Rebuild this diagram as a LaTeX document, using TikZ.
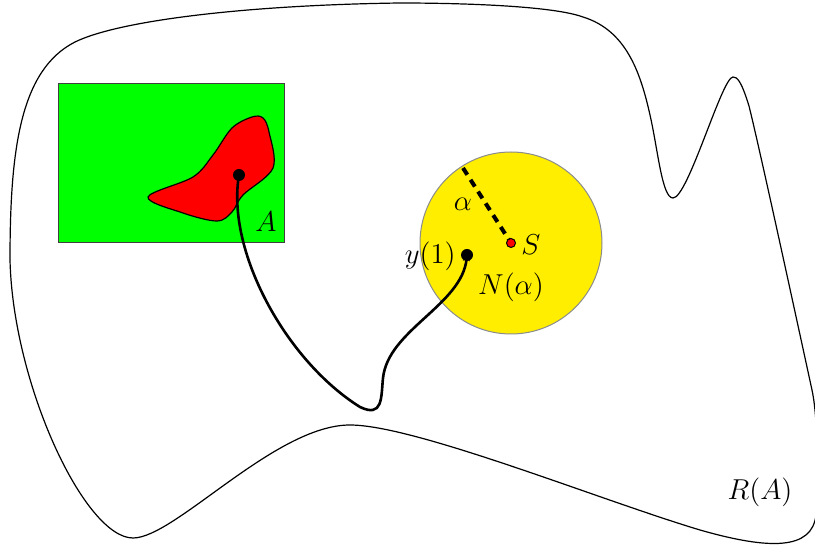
\documentclass[tikz,border=0pt]{standalone}
\usetikzlibrary{arrows.meta}
\definecolor{yel}{RGB}{255,238,0}
\definecolor{grn}{RGB}{0,255,0}
\definecolor{rd}{RGB}{255,0,0}
\begin{document}
\begin{tikzpicture}[x=0.5pt,y=-0.5pt,
  region/.style={draw=black,line width=0.6pt},
  lab/.style={font=\Large, inner sep=0pt},
  bigdot/.style={circle,fill=black,inner sep=0pt,minimum size=6pt},
  trajectory/.style={line width=1.3pt},
]
\useasboundingbox (0,0) rectangle (815,550);
\clip (0,0) rectangle (815,550);
% region R(A)
\draw[region] (133,538)
  .. controls (175,538) and (275,425) .. (350,425)
  .. controls (415,425) and (600,500) .. (700,530)
  .. controls (770,550) and (812,550) .. (816,515)
  .. controls (818,470) and (818,418) .. (812,390)
  .. controls (800,335) and (760,150) .. (749,106)
  .. controls (741,80) and (737,77) .. (733,77)
  .. controls (722,77) and (688,198) .. (673,198)
  .. controls (662,198) and (658,150) .. (650,115)
  .. controls (640,70) and (625,30) .. (583,17)
  .. controls (550,5) and (450,3) .. (400,3)
  .. controls (250,5) and (120,20) .. (75,42)
  .. controls (20,70) and (10,150) .. (10,260)
  .. controls (13,385) and (85,538) .. (133,538) -- cycle;
% set A
\node[draw=black!75, fill=grn, line width=0.5pt, minimum width=113pt, minimum height=79.5pt, inner sep=0pt] (A) at (171,163.5) {};
\draw[fill=rd, line width=0.6pt] plot[smooth cycle, tension=0.55] coordinates {
 (148,197) (193,177) (213,155) (232,128) (252,117) (263,118) (269,132) (273,168)
 (243,195) (232,212) (217,221) (183,213)};
\node[lab] (Alab) at (266,222) {$A$};
% neighbourhood
\node[circle, fill=yel, draw=black!45, line width=0.5pt, minimum size=91pt, inner sep=0pt] (N) at (511,243) {};
\coordinate (rim) at (463,168);
\draw[line width=2pt, dash pattern=on 4pt off 3pt] (rim) -- (511,243);
\node[circle, fill=rd, draw=black, line width=0.5pt, minimum size=4.5pt, inner sep=0pt] (S) at (511,243) {};
\node[lab] (alpha) at (463,204) {$\alpha$};
\node[lab] (Slab) at (531,245) {$S$};
\node[lab] (Nlab) at (511,287) {$N(\alpha)$};
% trajectory
\coordinate (x0c) at (239,175);
\coordinate (y1c) at (467,255);
\draw[trajectory, -{Stealth[length=3pt,width=3.5pt]}] (x0c) .. controls (226,250) and (285,360) .. (360,407)
  .. controls (383,418) and (381,398) .. (383,378)
  .. controls (388,330) and (462,305) .. (y1c);
\node[bigdot] (x0) at (x0c) {};
\node[bigdot] (y1) at (y1c) {};
\node[lab, anchor=east] (ylab) at (456,256) {$y(1)$};
\node[lab] (RA) at (760,492) {$R(A)$};
\end{tikzpicture}
\end{document}
